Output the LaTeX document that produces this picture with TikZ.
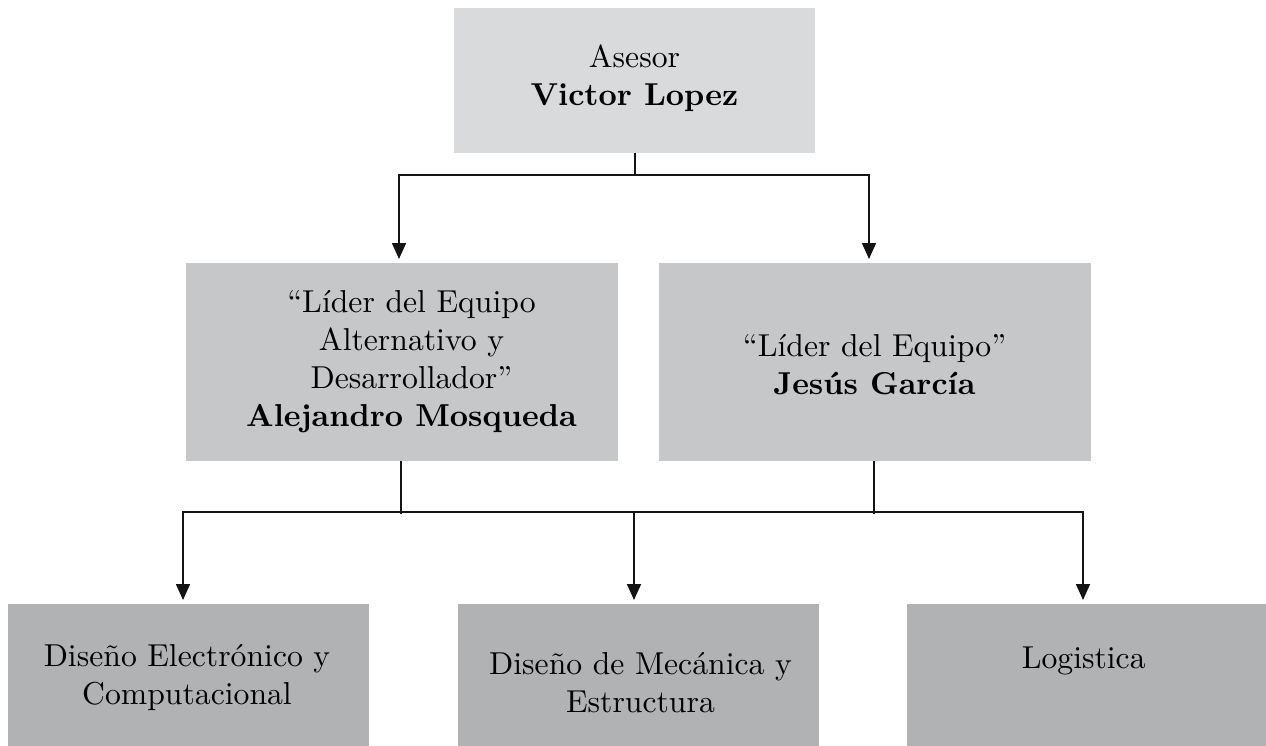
\documentclass[tikz,border=0pt]{standalone}
\usepackage{fontspec}
\setmainfont{lmroman10-regular.otf}[BoldFont=lmroman10-bold.otf,ItalicFont=lmroman10-italic.otf]
\usetikzlibrary{arrows.meta}
\definecolor{topfill}{RGB}{217,218,220}
\definecolor{midfill}{RGB}{198,199,201}
\definecolor{botfill}{RGB}{177,178,180}
\definecolor{linec}{RGB}{20,20,20}
\begin{document}
\begin{tikzpicture}[x=1pt,y=-1pt,
  box/.style={draw=none,inner sep=0pt,outer sep=0pt},
  txt/.style={inner sep=0pt,outer sep=0pt,anchor=base,align=center,font=\fontsize{31.7}{38}\selectfont},
  conn/.style={draw=linec,line width=1.6pt},
  arr/.style={conn,-{Triangle[length=16pt,width=14pt]},shorten >=4pt}]
\useasboundingbox (0,0) rectangle (1266,746);
% boxes
\node[box,fill=topfill,minimum width=361pt,minimum height=145pt] (top) at (634.5,80.5) {};
\node[box,fill=midfill,minimum width=432pt,minimum height=198pt] (ml) at (402,362) {};
\node[box,fill=midfill,minimum width=432pt,minimum height=198pt] (mr) at (875,362) {};
\node[box,fill=botfill,minimum width=361pt,minimum height=142pt] (b1) at (188.5,675) {};
\node[box,fill=botfill,minimum width=361pt,minimum height=142pt] (b2) at (638.5,675) {};
\node[box,fill=botfill,minimum width=359pt,minimum height=142pt] (b3) at (1086.5,675) {};
% texts (anchored at the baseline of the last line)
\node[txt] (toptxt) at (634.5,106) {Asesor\\\bfseries Victor Lopez};
\node[txt] (mltxt) at (411.5,426) {``Líder del Equipo\\Alternativo y\\Desarrollador''\\\bfseries Alejandro Mosqueda};
\node[txt] (mrtxt) at (874.5,394) {``Líder del Equipo''\\\bfseries Jesús García};
\node[txt] (b1txt) at (187,704) {Diseño Electrónico y\\Computacional};
\node[txt] (b2txt) at (640.5,712) {Diseño de Mecánica y\\Estructura};
\node[txt] (b3txt) at (1083.7,668) {Logistica};
% junction coordinates
\coordinate (j1) at (635,175);
\coordinate (j1l) at (399,175);
\coordinate (j1r) at (869,175);
\coordinate (j2) at (401,512);
\coordinate (j3) at (874,512);
\coordinate (j2l) at (183,512);
\coordinate (j2m) at (634,512);
\coordinate (j2r) at (1083,512);
% connectors
\draw[conn] (top.south -| j1) -- (j1);
\draw[arr] (j1) -- (j1l) -- (j1l |- ml.north);
\draw[arr] (j1) -- (j1r) -- (j1r |- mr.north);
\draw[conn] (ml.south -| j2) -- ([yshift=-2pt]j2);
\draw[conn] (mr.south -| j3) -- ([yshift=-2pt]j3);
\draw[arr] (j2m) -- (j2l) -- (j2l |- b1.north);
\draw[arr] (j2m) -- (j2r) -- (j2r |- b3.north);
\draw[arr] (j2m) -- (b2.north -| j2m);
\end{tikzpicture}
\end{document}
